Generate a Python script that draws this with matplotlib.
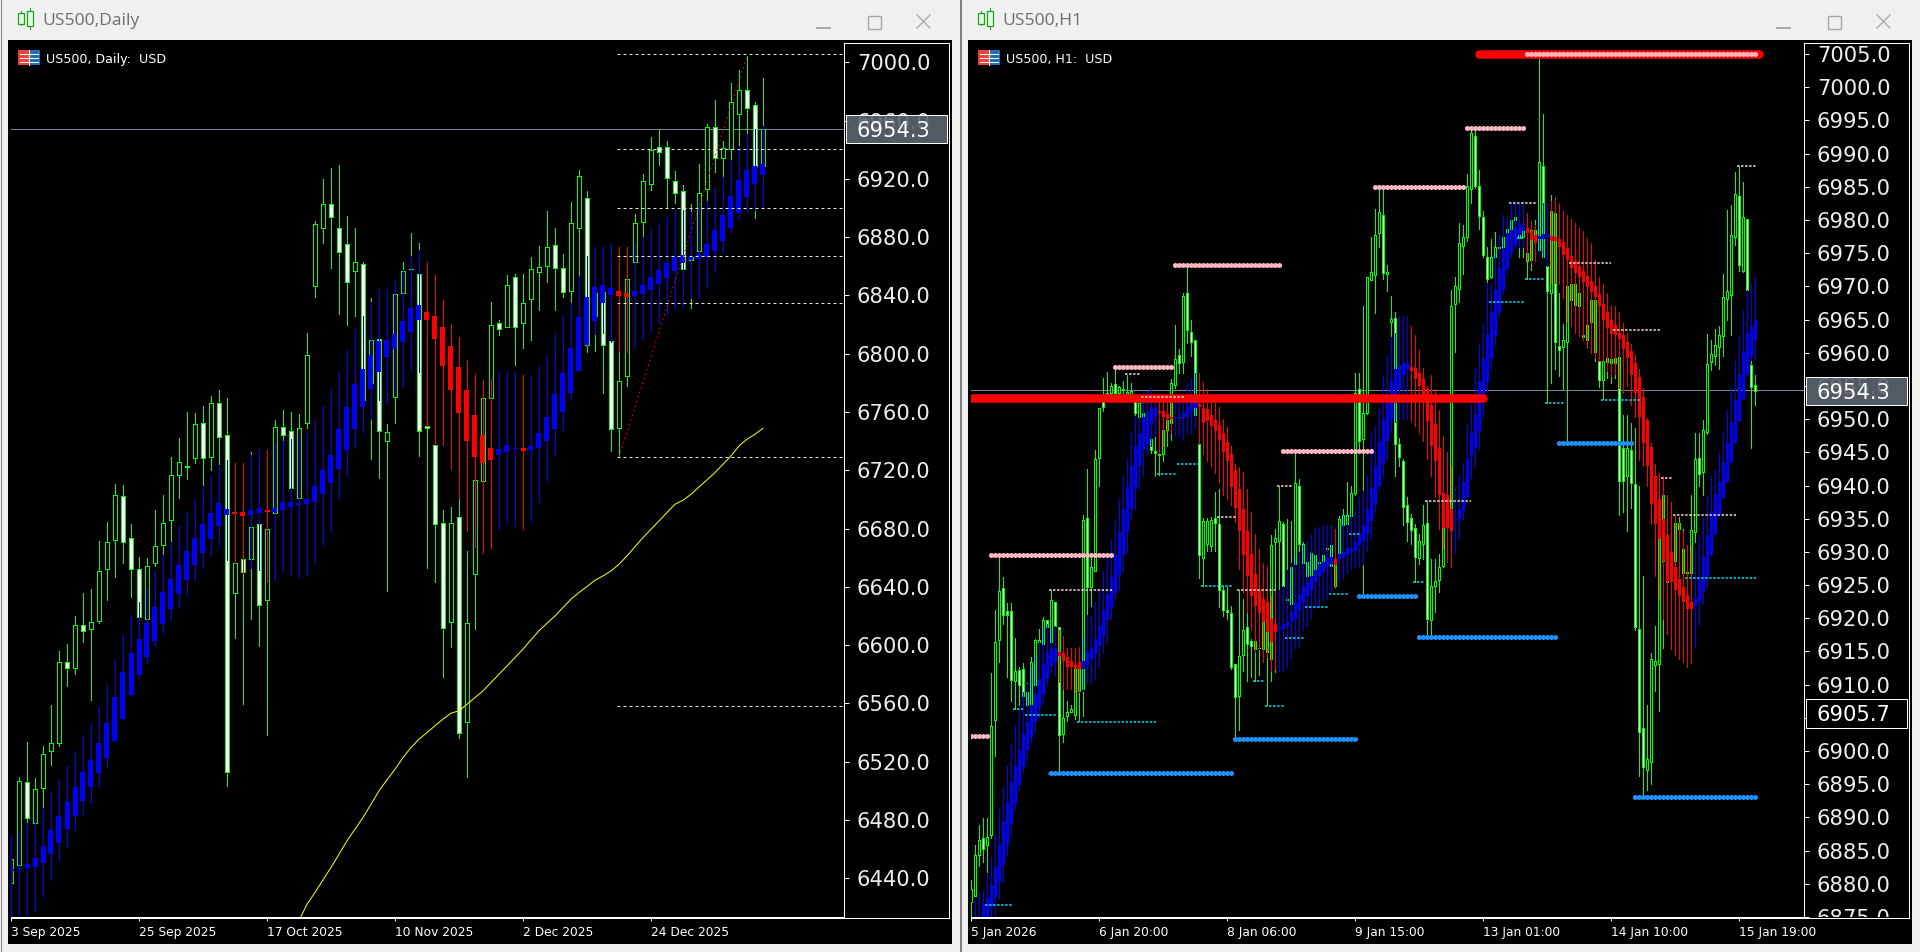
import numpy as np
import matplotlib
matplotlib.use('Agg')
import matplotlib.pyplot as plt
from matplotlib.patches import Rectangle
from matplotlib.transforms import Bbox

# ---------------- daily chart data ----------------
d_labels = ['3 Sep 2025', '25 Sep 2025', '17 Oct 2025', '10 Nov 2025', '2 Dec 2025', '24 Dec 2025']
d_label_bars = [0, 16, 32, 48, 64, 80]
d_yticks = [6440, 6480, 6520, 6560, 6600, 6640, 6680, 6720, 6760, 6800, 6840, 6880, 6920, 6960, 7000]
d_open = [6437,6449,6506,6478,6502,6527.6,6532.5,6588.7,6584,6613.6,
6611,6616.8,6652,6672,6702,6673.4,6652.5,6618,6656,6668.5,
6685.6,6716.8,6722.5,6728.7,6752.7,6729.4,6766,6744,6636,6659.4,
6659,6683,6631,6690.5,6750,6747,6701.2,6752.7,6846.7,6886.5,
6903,6886,6875,6857,6861.5,6779.8,6809.8,6740.3,6770,6841.4,
6858,6855,6750.4,6737,6683.6,6616,6688,6547,6648.6,6712.7,
6769.4,6820.8,6818.5,6852.4,6821,6837.3,6856.3,6860.4,6874.4,6858.6,
6843,6886,6907,6825.6,6842,6808.9,6749,6785,6863,6890.6,
6916.7,6942,6942,6918.7,6911.9,6864,6870.7,6912.8,6955.8,6934.5,
6940.2,6964.7,6980.7,6970.9,6928.5]
d_close = [6453,6506.6,6481,6501,6525,6532.6,6588.3,6584,6614,6610,
6616,6650.7,6671,6703,6670.6,6652,6619,6654,6668,6683.6,
6716.7,6725.5,6722.6,6751.5,6728.2,6766,6742.6,6513,6656.6,6650.5,
6681,6627.4,6680,6750,6744,6708,6749,6799,6888.7,6903,
6894,6870,6849,6862.7,6768,6809.4,6747,6746,6840.8,6857,
6858.1,6747,6748.8,6683,6612,6683.6,6540,6615.5,6713.4,6769.4,
6819.7,6816.7,6847,6818.5,6834.5,6858,6859.3,6873,6859,6842.6,
6890,6921.7,6806,6841.6,6806,6748.4,6781,6851,6889.5,6918.3,
6939.5,6938.2,6920.3,6910,6857.9,6866,6910,6955.3,6934,6940.9,
6972.5,6980.7,6968.4,6929,6954.3]
d_high = [6453,6509.6,6533.6,6509,6530.6,6559,6596,6601,6620,6636,
6638.3,6671.5,6684.5,6710.4,6710,6683,6660.5,6660,6692.8,6703,
6729,6742,6759.8,6759,6764,6771,6775,6769.6,6658,6660,
6732.8,6685,6682,6754.5,6761.4,6760,6758.4,6814,6891,6920,
6927.4,6929.5,6894.5,6886,6863,6838,6810,6752,6841,6862.7,
6883,6875.7,6774,6757,6693,6695,6701,6664.6,6714,6770,
6835.7,6823,6854,6854.6,6855,6866,6874,6898,6886,6868.2,
6904,6926,6911.7,6842,6843,6809,6801.4,6851.5,6895.8,6923,
6948.7,6953.3,6946,6925.1,6915.5,6902.7,6930.1,6957.6,6974,6945.9,
6985.5,6994.7,7004.3,6972.5,6988.9]
d_low = [6437,6448.5,6477,6474,6487,6518,6531,6571.6,6580,6602,
6562,6615.5,6631,6647,6656,6633.3,6618,6618,6654,6662,
6671.5,6701,6714,6724.8,6709,6720,6724.3,6503.5,6604.7,6559.7,
6618,6599.5,6538.6,6690.5,6740,6707,6700,6749,6839,6876,
6859,6827.5,6819.7,6826,6765,6727.8,6715,6637.2,6752.7,6841,
6857.5,6730,6653,6643,6578,6598.8,6536,6509.6,6611,6664.4,
6769,6813,6818,6792,6804,6809.4,6830,6849,6830,6839,
6835,6853,6801.4,6802,6773,6733,6730,6778,6851,6880,
6912.3,6929.5,6899.7,6903.1,6857,6831.1,6870.7,6904.8,6924.9,6921.5,
6932.9,6942.5,6950.5,6893.3,6926]
# smoothed (blue up / red down) overlay
dh_open = [6445,6446,6446.7,6448,6450.8,6456.3,6464.5,6473.7,6482.4,6492.7,
6502.3,6511.9,6522.2,6534,6549.2,6565.6,6579.6,6592.1,6603.1,6614.8,
6624.9,6635.4,6645,6654.8,6663.3,6672.9,6682,6689.3,6691.4,6691.4,
6689.3,6690.5,6692.8,6691,6692.8,6694.8,6696,6697.1,6698.5,6704,
6711.5,6720.9,6733.9,6748.3,6763.2,6775.8,6787.7,6798,6803.2,6808.3,
6815.1,6823.1,6828.6,6825.9,6818.1,6805.3,6790.9,6775.1,6758,6744.2,
6735.1,6730.5,6732.8,6734.6,6735.1,6733.9,6735.5,6740.1,6748.3,6760.2,
6772.8,6788.1,6806,6822.4,6834.6,6840.3,6842.8,6841.4,6839.6,6841,
6843.7,6847.8,6851.9,6856.7,6862,6864.3,6865,6866.6,6870.7,6877.3,
6886.5,6896.8,6907.5,6916.7,6922.6]
dh_close = [6446.5,6447,6449.7,6453.8,6462.2,6473,6482.8,6492.4,6502.5,6513,
6521.2,6532.9,6546.4,6564.2,6581.6,6594.4,6604,6615,6626,6636.3,
6645.2,6654.8,6664.4,6673.6,6682.9,6690.5,6697.3,6693.2,6690,6688.7,
6692.8,6694.1,6691,6694.1,6698.3,6698.3,6697.8,6700.1,6709.2,6720.2,
6730.5,6748.3,6763.2,6779.2,6789.5,6798.9,6809,6809.4,6813.5,6822.4,
6831.4,6833.4,6823.1,6810.1,6791.6,6775.1,6759.6,6740.3,6729.4,6725.3,
6727.1,6734.6,6737.1,6735.5,6733.3,6736.7,6745.4,6756.4,6772.1,6786.5,
6803.7,6825,6838.7,6845.5,6846.9,6844.9,6839.8,6839.1,6842.8,6846.9,
6852.4,6857.4,6862,6866.1,6867.7,6866.3,6868.2,6875,6884.9,6895.2,
6908.2,6919,6925.8,6928.8,6930.2]
dh_high = [6470,6472.5,6478,6480.5,6488.5,6499.3,6507.5,6517.1,6527.4,6537.7,
6546.6,6558.3,6572.7,6589.9,6607.7,6620.5,6629.7,6639.9,6651.6,6661.9,
6671,6681.8,6691.4,6700.1,6709.2,6716.3,6723,6727,6724.8,6724.8,
6730.5,6734.4,6734,6738,6740.3,6741.5,6745.4,6745.4,6754.5,6764.4,
6775.6,6787.2,6802.5,6816.7,6826.1,6835.7,6844.4,6844.4,6850.6,6857.2,
6867,6871.2,6863.2,6853.8,6836.9,6820.4,6811.5,6795.7,6786.1,6782,
6782.7,6787.7,6788.1,6787.2,6785.4,6784.7,6791.6,6799.1,6814,6826.1,
6835,6853.3,6867,6873.2,6873.9,6875,6873.4,6873,6876.9,6880.3,
6885.6,6889.5,6893.6,6898.6,6898.6,6897.5,6905.5,6904.8,6913.5,6921.5,
6932.9,6942.5,6950.5,6954.2,6956.5]
dh_low = [6410,6405,6405,6417.6,6427.3,6438.9,6452,6461.6,6473.4,6484.4,
6491.3,6503.4,6516.5,6534,6549.2,6565.6,6577,6587.6,6599.7,6608.6,
6616.6,6625.8,6635.4,6644.1,6652.8,6661.9,6668.8,6658.5,6656.2,6649.8,
6652.8,6651.6,6643.4,6643.8,6650.7,6648.4,6646.6,6648.2,6657.3,6668.5,
6677.9,6701.2,6716.1,6735.5,6745.4,6755.2,6768.2,6765.5,6772.8,6778.1,
6788.8,6787.7,6750.4,6737.4,6737.4,6720.9,6701.2,6678.4,6667.6,6663,
6666.5,6679.5,6683.6,6681.8,6680,6685.2,6698.3,6712.7,6730.5,6747.7,
6768.2,6788,6806,6813.5,6814.4,6808.3,6802.1,6801.4,6804.8,6809.4,
6815.1,6820.8,6826.6,6830.7,6833,6838.5,6838.5,6845.3,6856.3,6868.9,
6882.6,6891.7,6897.9,6898.6,6899.8]
ma_first_bar = 36
ma_values = [6410.8,6422.2,6430.2,6438.9,6447.4,6456.5,6465.7,6473.7,6481.7,6490.8,
6500,6507.5,6514.8,6522.8,6529.7,6535.4,6540,6544.6,6549.2,6553.3,
6554.9,6559.4,6564,6568.6,6574.3,6580,6585.7,6591.5,6597.2,6603.6,
6609.8,6615,6620,6625.8,6631.5,6636.1,6640.2,6644.5,6647.5,6650.9,
6655.5,6661.2,6667.6,6673.8,6679.5,6685.2,6691,6696.7,6699.4,6703.5,
6708.5,6713.4,6718.4,6724.1,6729.8,6736.7,6741.3,6744.7,6748.8]
d_dash_levels = [7005.5, 6940.3, 6899.8, 6866.9, 6834.7, 6729, 6558.3]
d_dash_start_bar = 75.8
d_trend_bars = [76, 92]
d_trend_prices = [6729, 7004.3]
last_price = 6954.3
bid_line = 6954.4

# ---------------- hourly chart data ----------------
h_labels = ['5 Jan 2026', '6 Jan 20:00', '8 Jan 06:00', '9 Jan 15:00', '13 Jan 01:00', '14 Jan 10:00', '15 Jan 19:00']
h_label_bars = [0, 32, 64, 96, 128, 160, 192]
h_yticks = list(range(6875, 7006, 5))
h_open = [6877.2,6878.1,6884.4,6886.9,6885.8,6887.3,6904.7,6916.8,6924.5,6921.1,
6921.1,6910.5,6912.2,6912.4,6906.9,6906.7,6910,6916.4,6916.2,6919.8,
6916.4,6922.4,6918.7,6902.6,6905.3,6905.9,6905.4,6913.3,6909.4,6935.1,
6924.7,6927.2,6944.2,6952.7,6953.3,6954,6955.3,6954,6954.5,6953.85,
6953.7,6952.7,6950.4,6947.9,6947.2,6947,6945.2,6944.7,6944.7,6948.4,
6949.4,6955.2,6959.6,6958.6,6969,6963.1,6961.9,6946.2,6929.1,6931.2,
6930.9,6935.1,6934.2,6924.2,6921.2,6920.8,6913.1,6908.3,6914.4,6918.7,
6916.6,6916.6,6915.6,6915.4,6914.9,6913.9,6931.5,6931.6,6934.2,6922.7,
6922.2,6928.2,6940,6931.2,6926.4,6925.9,6927.4,6928.3,6927.4,6930.4,
6927.9,6924.9,6929.5,6934,6934.2,6935.4,6938.9,6954.5,6947,6951,
6971,6971.7,6978,6980.7,6971.9,6964.6,6965.3,6946.3,6943.7,6937.1,
6935.1,6933.6,6929.1,6931.2,6934.4,6919.8,6924.9,6925.7,6927.9,6935.6,
6936.5,6967.4,6969.6,6976.1,6977.4,6984.6,6992.7,6985.1,6980.5,6974.5,
6971.4,6974.4,6975.8,6975.8,6977.4,6978.6,6980,6977.3,6977.5,6975,
6974,6977,6975.5,6988.2,6973,6969,6981,6961,6960.9,6961.7,
6968,6967.2,6967.1,6962.7,6962,6964.6,6960.1,6958.7,6955.9,6959.2,
6958.4,6958.5,6959.4,6945.7,6941.5,6945.4,6940.2,6918.4,6903.5,6897.1,
6898.3,6912.9,6913.1,6928.7,6925.5,6926.4,6928.7,6934.4,6926.8,6926.9,
6926.8,6933,6944.2,6942,6948.1,6958.6,6959.5,6960.9,6962.5,6968.1,
6968.7,6977.4,6983.6,6972.3,6980.2,6958.1,6955.2]
h_close = [6879.2,6884.4,6886.6,6885.2,6887.1,6903.7,6916.4,6924.1,6920.5,6920.5,
6910.7,6912.1,6910,6908.3,6908.9,6913.4,6916.8,6916.8,6919.8,6918.7,
6922.7,6918.9,6902.4,6905,6905.9,6906.3,6912.4,6909.1,6934.8,6924.7,
6927.7,6944,6951.7,6951.8,6954,6955,6954,6954.9,6954.6,6954.05,
6954.2,6950.9,6952.4,6950.9,6946.8,6945.3,6944.9,6944.6,6948.4,6949.9,
6955.4,6959,6958.5,6968.6,6963.5,6961.6,6950.7,6929.5,6934.7,6934.6,
6934.8,6934.3,6924.2,6921.2,6921,6912.6,6908.1,6914.3,6918.2,6916.2,
6915.8,6915.4,6915.5,6922.9,6919.9,6931,6932.1,6934.6,6924.9,6922.9,
6927.8,6940.4,6931.2,6928.4,6928.5,6929.8,6929.6,6928.5,6929.6,6930.6,
6931,6928.2,6934.9,6935.5,6935.6,6938.9,6954,6946.7,6950.9,6971.4,
6972.2,6977.7,6981.2,6972,6972.1,6965.1,6946.2,6944.3,6936.7,6934.5,
6933.3,6929.2,6931.6,6934.1,6919.9,6924.8,6925.6,6927.7,6935.6,6938.5,
6967.1,6970.1,6976.5,6977.5,6985.2,6993.1,6985.1,6980.6,6974.7,6971.1,
6974.4,6975.9,6975.9,6977.4,6978.6,6980,6980.5,6979.5,6978.5,6973.9,
6978.5,6978.5,6988.7,6974.5,6969.3,6981.3,6961.6,6960.4,6961.9,6970.1,
6970.4,6970.4,6969,6962.4,6964.2,6968,6968,6955.9,6958.7,6958.6,
6959.1,6959.2,6940.7,6940.7,6945.7,6940.4,6918.7,6902.8,6897.6,6898.8,
6913.9,6913.5,6932,6938.5,6927.4,6930,6934.4,6933.5,6930.4,6926.8,
6933.3,6944,6941.8,6948.3,6958.3,6959.8,6961.1,6962.7,6968.4,6969.3,
6977.7,6983.9,6973.2,6980.5,6969.5,6954.8,6954.3]
h_high = [6880.5,6885.9,6888.8,6889.9,6889.9,6911.8,6921.3,6929.2,6926.2,6922.3,
6922.3,6917.1,6912.6,6913.3,6910.3,6914.1,6916.9,6918.4,6920.2,6919.8,
6924.3,6922.4,6918.7,6909.7,6907.5,6906.9,6913.4,6913.4,6935.6,6942.5,
6929.5,6945.3,6951.7,6956.2,6957.1,6955.5,6957.5,6955,6955.7,6956.7,
6955.5,6953.4,6952.4,6950.9,6948.4,6947.9,6947.9,6947.7,6948.9,6950.4,
6956,6964.2,6960.5,6969,6972.9,6965,6961.9,6951.7,6935.1,6935.1,
6935.2,6939,6939.5,6924.9,6924.7,6921.9,6913.1,6924.3,6922.9,6921.7,
6916.9,6916.9,6924.7,6926.2,6923.7,6932.5,6933.5,6940,6934.5,6935,
6934.7,6944.9,6941,6931.5,6928.5,6929.8,6929.6,6929.5,6930,6931,
6931,6929,6935.4,6936.5,6940.5,6940,6957,6956.9,6967,6971.4,
6977.5,6981.6,6984.8,6984.8,6973.3,6968.6,6966.1,6947.1,6944,6938.2,
6935.7,6934.2,6932.7,6937.1,6937.6,6929,6929,6929.7,6935.6,6938.5,
6969.4,6971.4,6979.5,6979.2,6987,6993.4,6993.5,6987.6,6981.4,6976,
6977.1,6978.2,6977.7,6978.3,6980,6982,6980.6,6979.6,6979,6978.5,
6978.5,6980,7004.3,6996,6974,6983.8,6983.3,6969,6964.4,6970.1,
6970.4,6970.4,6969,6969,6964.2,6968,6968,6960,6960,6960,
6959.2,6959.7,6959.4,6950.7,6950.7,6949.4,6948.7,6940,6926.4,6906.9,
6914.8,6918.9,6938.5,6938.7,6932,6931,6935.5,6935.2,6933.5,6931,
6938.5,6947.9,6947.9,6949.9,6962.9,6962,6963.6,6964,6971.9,6981.5,
6982.3,6987.2,6988.2,6985.7,6980.2,6959.6,6956.6]
h_low = [6875.1,6878.1,6882.7,6883.3,6881.8,6886.9,6899.2,6913.4,6919.2,6911.2,
6907.6,6906.3,6906.9,6907.3,6906.8,6906.7,6908.9,6916.4,6915.9,6918.7,
6916.4,6918.7,6896.8,6901.3,6904.6,6905.9,6904.9,6904.6,6905.3,6917.7,
6921.9,6927.2,6940,6951.3,6953,6953.7,6953.8,6953.4,6954,6953,
6953,6950.7,6950.4,6947.9,6946.8,6944.9,6941.4,6941.6,6943.7,6945.9,
6946.9,6954.7,6957,6957,6961.5,6959.5,6950.4,6926,6924.9,6930.2,
6930.2,6930.2,6921.7,6920.4,6919.9,6912.4,6902.1,6903.2,6912.1,6910.6,
6911.1,6910.6,6911.4,6914.4,6906.9,6910.6,6911.9,6922.9,6920.4,6922.4,
6916.9,6927.9,6930.2,6928.2,6924.9,6925.4,6926.4,6927.4,6926.9,6928.4,
6927.7,6924.7,6928.4,6929.5,6929.5,6934.2,6938.5,6944.9,6923.7,6950.8,
6971,6966,6975.9,6971.1,6969.3,6962.5,6941.5,6942.9,6934.1,6931.7,
6931.2,6925.4,6928.2,6929,6917.4,6917.4,6920.9,6923.9,6927.7,6934,
6936.5,6960.1,6967.6,6971.9,6976.8,6982.5,6984.8,6978.7,6974.4,6970.6,
6971.3,6973,6975,6975.8,6977.3,6978,6977.3,6974.5,6974.5,6971.1,
6972.5,6974,6975,6974.5,6952.5,6955.5,6957.5,6956.5,6954.5,6946.7,
6967,6967,6966.8,6962.2,6960.8,6961.2,6958.7,6954.8,6953,6956.2,
6955.5,6956.2,6935.5,6936,6933.1,6936.6,6918.2,6896.3,6893.4,6894.1,
6895,6909,6906,6915.6,6917.7,6926.4,6928,6930.5,6926.7,6926.7,
6926.4,6931.5,6940,6938.5,6947.7,6957.4,6958.1,6957.6,6959.5,6964.9,
6962.7,6976.3,6972.3,6972.2,6963,6945.7,6952.1]
hh_open = [6870,6871,6872,6873,6874,6876.5,6878,6880.2,6882.9,6885.9,
6889,6892,6894.9,6897.6,6900.1,6902.1,6904.4,6906.5,6908.5,6910.8,
6912.8,6913.4,6914.9,6914.7,6914.1,6913.6,6913,6913.4,6912.4,6912.9,
6913.9,6914.6,6915.8,6917.3,6919.8,6921.5,6923.8,6926.5,6929.6,6933,
6936.5,6939.6,6942.9,6945.3,6946.2,6949.2,6950.4,6951.2,6951.2,6950.8,
6950.4,6950.2,6950.1,6950.2,6950.4,6951.2,6951.7,6952.3,6951.7,6951.5,
6950.7,6949.8,6949.1,6947.9,6946.5,6944.7,6942.4,6939.5,6936.4,6933.1,
6929.7,6926.7,6924.3,6922.9,6922.4,6919.9,6919.1,6918.4,6918.4,6918.8,
6919.4,6919.9,6921.2,6922.4,6923.4,6924.2,6925.4,6926.3,6927,6927.8,
6928.2,6929,6928.9,6929.2,6929.5,6930,6930.2,6931,6931.7,6932.7,
6934.7,6937.2,6940,6943.4,6946.7,6949.9,6952.8,6954.5,6956.6,6957.5,
6957.8,6957.7,6957,6956,6954.6,6952.2,6949.2,6945.7,6938.9,6938.5,
6936.5,6934.7,6935,6936.1,6938.2,6944.4,6945.7,6948.2,6953,6955.6,
6959.1,6962.6,6966.1,6969.4,6972.6,6975.1,6976.3,6977.8,6978.3,6978.8,
6978.3,6977.8,6977.2,6977.2,6977.4,6977.6,6977.4,6977.2,6976.7,6975.8,
6974.6,6973.8,6973,6972.3,6971.5,6970.8,6970,6968.8,6967.3,6966.2,
6965,6964.2,6963,6962.7,6961.7,6960.2,6958.5,6956.4,6953.4,6949.9,
6945.8,6941.5,6938,6935,6932.5,6930,6927.8,6925.9,6924.7,6923.5,
6922.4,6921.8,6922.4,6924.1,6926.4,6929.5,6932.7,6935.6,6938.1,6940.6,
6943.5,6946.4,6949.7,6953,6956.6,6959.5,6961.9]
hh_close = [6872,6873,6874.5,6876.9,6878,6879.8,6882.5,6885.8,6889.3,6892.4,
6895.3,6897.8,6900.2,6902.6,6904.6,6906.9,6908.6,6910.9,6913.1,6914.9,
6915.6,6915.6,6914.3,6913.5,6912.7,6912.6,6912.3,6912.3,6913.5,6914.9,
6915.6,6916.9,6918.9,6921.3,6923.7,6926.2,6929.5,6933,6936.5,6939.8,
6943,6946,6947.9,6950.3,6951.1,6951.9,6951.7,6950.9,6950.4,6950,
6950,6950.3,6950.4,6950.9,6951.9,6952.7,6952.4,6951.8,6949.4,6949.7,
6948.9,6948.2,6946.8,6945,6943.7,6939.8,6936.6,6933.1,6929.5,6926.4,
6923.4,6921.8,6920.8,6919.4,6917.9,6916.4,6917.9,6918.7,6919.1,6919.5,
6920.9,6922.4,6923.7,6924.8,6925.5,6926.4,6927.3,6928.2,6928.5,6929.3,
6929.2,6928,6929.7,6930,6930.6,6930.6,6931.5,6932.7,6934.1,6936.5,
6939.7,6942.9,6946.7,6950,6953.2,6955.7,6957.6,6958.2,6958.5,6958.4,
6957.3,6956,6955,6953.7,6949.7,6946,6943.7,6938.5,6933.6,6933.6,
6933.2,6935,6936.5,6940.5,6944,6947.9,6950.7,6955.7,6959.2,6962.8,
6966.2,6969.5,6972.8,6975.8,6978,6978.5,6979,6979.5,6979,6978,
6977,6976.5,6977.6,6977.9,6977.9,6976.9,6976.8,6975.9,6974.7,6974,
6972.8,6972,6971.4,6970.6,6969.9,6969.1,6968.4,6967.1,6964.9,6963.7,
6962.9,6962.7,6962.1,6960.6,6959.2,6956.7,6954,6950.4,6946.4,6942.9,
6937.2,6934.2,6932,6928.7,6925.5,6925.4,6924.2,6923.3,6922.4,6921.4,
6921.4,6923.1,6925.9,6929.2,6932.6,6936.2,6938.5,6940.6,6943.4,6946.4,
6949.4,6952.9,6956.6,6960.1,6963,6964.1,6965]
hh_high = [6874,6877.6,6878.9,6878.9,6881.5,6884,6887.5,6891.2,6894.6,6897.9,
6901.1,6903.9,6906.4,6908.9,6910.1,6912.6,6914.4,6916.5,6918.4,6919.2,
6918.4,6918.8,6918.2,6917.3,6915.6,6915.6,6915.5,6915.7,6917.5,6920.5,
6920.4,6922.4,6924.4,6927.1,6929.1,6931.8,6934.7,6938,6941.5,6944,
6947.9,6950.4,6950.4,6954,6954.2,6954.7,6953.4,6953.4,6952.7,6952.7,
6952.4,6952.7,6953.4,6952.7,6955.5,6956,6956.9,6956.9,6955.6,6954.6,
6953.4,6952.5,6951.8,6950,6948.8,6945.9,6943.2,6942.8,6942,6939.5,
6936,6932.7,6930.5,6928.4,6927.9,6923.4,6924.2,6924.2,6924.9,6927.3,
6928.4,6929.5,6930,6931.1,6931.7,6932.7,6933.6,6933.8,6934,6934.1,
6934,6933.5,6934,6935.4,6934.2,6935.5,6936.5,6938.2,6939.2,6941.5,
6947.9,6949,6951.7,6956.7,6959.7,6962.4,6963,6965.5,6965.6,6965.6,
6964.1,6962.7,6960.4,6957.7,6955,6956.7,6954.5,6951.4,6947.5,6945,
6943,6940,6941.5,6943.4,6949.3,6953,6957.7,6961.4,6964.5,6970.5,
6970.5,6975,6977.8,6980.8,6980.3,6982.5,6982.5,6982.5,6982.5,6981,
6979.8,6979.3,6981,6982.5,6982.5,6982.9,6983.2,6982.6,6981.4,6980.8,
6980.2,6979.6,6978.8,6978.3,6977.3,6976.5,6974,6971.4,6970.3,6969,
6967,6967,6966.1,6964.5,6963,6961.3,6959.7,6957.6,6954.7,6950.2,
6946.4,6943.2,6941.9,6941.5,6938.5,6937.5,6935.5,6934.5,6933.2,6931,
6931,6930.7,6932.2,6935.2,6938.6,6941.5,6942.4,6944.9,6947.9,6951.4,
6954.9,6958.7,6962.5,6966.5,6969.5,6970.5,6971.4]
hh_low = [6868,6868,6869,6870,6871,6874,6875.2,6877.7,6880.3,6884.3,
6887.3,6891.3,6894.1,6896.8,6898.8,6901.3,6902.8,6905.1,6907.4,6910.1,
6911.9,6911.4,6910.4,6909.4,6909.4,6909.4,6908.9,6908.9,6909.1,6910.1,
6910.4,6910.9,6912.6,6914.9,6916.4,6919.9,6922.7,6924.4,6927.2,6930,
6935,6936.5,6939.5,6941.5,6944.8,6946,6947.5,6944.9,6945.9,6948.4,
6947.9,6947.4,6947.4,6946.9,6947.7,6947.9,6948.7,6946.2,6944.7,6943.7,
6942.9,6941.9,6940.5,6938.5,6938,6937,6934.5,6927.5,6924,6920.9,
6918.2,6914.9,6915.4,6913.4,6914.1,6912.1,6912.4,6912.1,6912.1,6912.5,
6914,6915.6,6915.9,6918.2,6918.9,6919.9,6921.7,6921.7,6922.7,6922.9,
6923.9,6924.9,6925.4,6925.9,6926.7,6927.4,6927.7,6927.9,6928.2,6930.2,
6932,6936,6939.5,6941.5,6944,6948,6949.5,6950,6950,6950,
6949.7,6948.9,6947.9,6946.7,6944,6941.5,6938.2,6933.5,6930.5,6928.5,
6927.8,6929.8,6932,6935,6938.2,6941.1,6943,6945.4,6950.4,6954.2,
6957.5,6961,6965.5,6969,6972,6974.5,6975.8,6976,6976,6974,
6973.5,6973.8,6975,6974.5,6973,6970.5,6970.5,6970.3,6968.3,6964.7,
6964,6963,6962.5,6962,6961,6960,6959.2,6958.7,6958.7,6957.2,
6956.5,6956.8,6954.7,6954,6955,6952.1,6950.4,6943.9,6942.9,6940,
6934.2,6926.4,6922.9,6919.9,6917.7,6915.4,6914.4,6913.8,6913.4,6912.6,
6913.3,6915.6,6919,6922.3,6924.7,6929.5,6932.7,6935.6,6938.1,6940.6,
6943.5,6946.4,6949.7,6953,6956.6,6958.9,6958.9]
# horizontal level segments of the hourly chart
pink_starts = [0, 4.5, 35.4, 50.4, 77.4, 100.4, 123.5, 138.5]
pink_ends = [4.4, 35.4, 50.4, 77.4, 100.4, 123.5, 138.5, 196.4]
pink_prices = [6902.3, 6929.55, 6957.9, 6973.2, 6945.2, 6985, 6993.8, 7005]
blue_starts = [19.3, 65.4, 96.4, 111.4, 146.4, 165.4]
blue_ends = [65.4, 96.4, 111.4, 146.4, 165.4, 196.4]
blue_prices = [6896.7, 6901.8, 6923.4, 6917.2, 6946.4, 6893.1]
red_starts = [0, 127]
red_ends = [128, 197]
red_prices = [6953.2, 7005]
pale_starts = [38.5, 42.5, 19.6, 61.6, 76.6, 66.6, 113.6, 134.5, 149.5, 160.6, 172.5, 175.6, 191.6]
pale_ends = [42.3, 53.3, 35.4, 66.3, 80.3, 76.3, 125, 141.3, 160.1, 172.3, 175.2, 191.3, 196.3]
pale_prices = [6956.8, 6953.4, 6924.3, 6935.2, 6940, 6924.2, 6937.6, 6982.6, 6973.55, 6963.5, 6941.1, 6935.5, 6988.2]
cyan_starts = [3.5, 10.6, 13.6, 26.6, 46.6, 51.6, 57.6, 70.6, 73.6, 78.6, 83.6, 89.6, 94.6, 110.6, 129.6, 138.6, 136.6, 143.6, 157.6, 178.6]
cyan_ends = [10.2, 13.1, 21.3, 46.3, 51.3, 57, 65.2, 73.3, 78.3, 83.3, 89.3, 94.3, 97.3, 113.3, 138.3, 143.3, 138.3, 148.3, 167.3, 196.3]
cyan_prices = [6876.8, 6906.3, 6905.4, 6904.4, 6941.7, 6943.2, 6924.9, 6910.5, 6906.8, 6917, 6921.7, 6923.6, 6932.7, 6925.4, 6967.7, 6971.1, 6977.3, 6952.5, 6952.9, 6926]
ask_price = 6905.7

W, H = 1920, 952
PX = 0.72  # one pixel in points at 100 dpi
THIN = 0.72  # vertical candle strokes
GREEN, BLUE, RED = '#00FF00', '#0000FF', '#FF0000'
CHROME = '#F0F0F0'
plt.rcParams['font.family'] = ['DejaVu Sans']

fig = plt.figure(figsize=(W / 100, H / 100), dpi=100, facecolor=CHROME)
bg = fig.add_axes([0, 0, 1, 1], zorder=0)
bg.set_xlim(0, W)
bg.set_ylim(H, 0)
bg.axis('off')
front = fig.add_axes([0, 0, 1, 1], zorder=9)
front.set_xlim(0, W)
front.set_ylim(H, 0)
front.axis('off')
front.patch.set_alpha(0)


def window(x0, title):
    """Window frame, title bar and the black chart pane."""
    bg.add_patch(Rectangle((x0 + 8, 40), 944, 904, fc='black', ec='none'))
    for xx in (x0 + 0.5, x0 + 959.5):
        bg.plot([xx, xx], [0, H], color='#808080', lw=PX, aa=False)
    bg.plot([x0, x0 + 960], [951.5, 951.5], color='#808080', lw=PX, aa=False)
    # candle icon
    for cx, y0, y1, top, bot in ((20.5, 11, 25, 13, 24), (29.5, 8, 29, 11, 26)):
        bg.plot([x0 + cx, x0 + cx], [y0, y1], color='#12A512', lw=PX, aa=False)
        bg.add_patch(Rectangle((x0 + cx - 3, top), 6, bot - top, fc='#E8F5E8', ec='#12A512', lw=PX * 1.2, zorder=3))
    bg.text(x0 + 42, 21, title, color='#6E6E6E', fontsize=12.6, family='Open Sans', va='center', ha='left')
    # caption buttons
    bg.plot([x0 + 817, x0 + 830], [28, 28], color='#A8A8A8', lw=PX * 1.5, aa=False)
    bg.add_patch(Rectangle((x0 + 867.5, 15.5), 13, 13, fc='none', ec='#A8A8A8', lw=PX * 1.4))
    bg.plot([x0 + 917, x0 + 930], [15, 28], color='#A8A8A8', lw=PX * 1.3)
    bg.plot([x0 + 917, x0 + 930], [28, 15], color='#A8A8A8', lw=PX * 1.3)
    # white pane frame
    fx0, fx1, fy0, fy1 = x0 + 10.5, x0 + 948.5, 42.5, 917.5
    bg.plot([fx0, fx1, fx1], [fy0, fy0, fy1], color='white', lw=PX, aa=False)
    bg.plot([fx0, fx0], [fy0, fy1], color='white', lw=PX, aa=False)
    bg.plot([fx0, fx1], [fy1, fy1], color='white', lw=PX, aa=False)
    # flag icon of the caption line
    fx = x0 + 18
    front.add_patch(Rectangle((fx, 50), 11, 15, fc='#E8453C', ec='none', zorder=3))
    front.add_patch(Rectangle((fx + 11, 50), 11, 15, fc='#1F6FB5', ec='none', zorder=3))
    for sy in (54, 58, 62):
        front.plot([fx + 2, fx + 20], [sy, sy], color='white', lw=PX, aa=False, zorder=4)
    front.plot([fx + 11, fx + 11], [50, 65], color='white', lw=PX, aa=False, zorder=4)


window(0, 'US500,Daily')
window(960, 'US500,H1')


def pane(x0, pitch, ylim, yticks, labels, label_bars):
    ax = fig.add_axes([(x0 + 11) / W, 1 - 917 / H, 833 / W, 874 / H], zorder=2)
    ax.set_facecolor('black')
    ax.set_xlim(0, 833 / pitch)
    ax.set_ylim(*ylim)
    for side in ('top', 'left'):
        ax.spines[side].set_visible(False)
    for side in ('right', 'bottom'):
        ax.spines[side].set_color('white')
        ax.spines[side].set_linewidth(PX)
    ax.yaxis.tick_right()
    ax.set_yticks(yticks)
    ax.set_yticklabels([f'{v:.1f}' for v in yticks])
    ax.set_xticks(label_bars)
    ax.set_xticklabels(labels, ha='left')
    ax.tick_params(axis='y', colors='white', length=3.6, width=PX, pad=5.6, labelsize=15.2, labelcolor='#EDEDED')
    ax.tick_params(axis='x', colors='white', length=3.2, width=PX, pad=3.0, labelsize=8.8)
    return ax


def candles(ax, o, h, l, c, width):
    x = np.arange(len(o))
    o, h, l, c = map(np.asarray, (o, h, l, c))
    ax.vlines(x, l, h, color=GREEN, lw=THIN, antialiased=False, zorder=2)
    top, bot = np.maximum(o, c), np.minimum(o, c)
    face = np.where(c < o, 'white', 'black')
    ax.bar(x, top - bot, bottom=bot, width=width, color=list(face), edgecolor=GREEN,
           linewidth=THIN, antialiased=False, zorder=2.2)


def overlay(ax, o, h, l, c, width):
    x = np.arange(len(o))
    o, h, l, c = map(np.asarray, (o, h, l, c))
    col = [BLUE if cc >= oo else RED for oo, cc in zip(o, c)]
    ax.vlines(x, l, h, colors=col, lw=THIN, antialiased=False, zorder=3)
    top, bot = np.maximum(o, c), np.minimum(o, c)
    ax.bar(x, np.maximum(top - bot, 0.001), bottom=bot, width=width, color=col, linewidth=0,
           antialiased=False, zorder=3.1)


def price_tag(ax, price, face, alpha, half_px, text_col='white', edge='white'):
    y0, y1 = ax.get_ylim()
    unit = (y1 - y0) / 874
    x_a = 834.8 / 833
    w_a = 101.5 / 833
    tr = ax.get_yaxis_transform()
    ax.add_patch(Rectangle((x_a, price - half_px * unit), w_a, 2 * half_px * unit, transform=tr, fc=face,
                           ec='none', alpha=alpha, clip_on=False, zorder=6))
    ax.add_patch(Rectangle((x_a, price - half_px * unit), w_a, 2 * half_px * unit, transform=tr, fc='none',
                           ec=edge, lw=PX, clip_on=False, zorder=6.1))
    ax.text(846 / 833, price, f'{price:.1f}', transform=tr, color=text_col, fontsize=15.2, va='center_baseline',
            ha='left', clip_on=False, zorder=7)


# ----- daily pane -----
ax1 = pane(0, 8, (6413.4, 7013.2), d_yticks, d_labels, d_label_bars)
ax1.axhline(bid_line, color='#778899', lw=PX, antialiased=False, zorder=1)
candles(ax1, d_open, d_high, d_low, d_close, 0.5)
overlay(ax1, dh_open, dh_high, dh_low, dh_close, 0.625)
ma_x = np.arange(len(ma_values)) + ma_first_bar
ax1.plot(ma_x, ma_values, color='#FFFF00', lw=0.72, antialiased=True, zorder=4)
ax1.hlines(d_dash_levels, d_dash_start_bar, 833 / 8, color='#E8E8E8', lw=PX, linestyles=(0, (3, 3)), zorder=4)
ax1.plot(d_trend_bars, d_trend_prices, color=RED, lw=0.72, linestyle=(0, (1.6, 3.2)), antialiased=True, zorder=4)
price_tag(ax1, last_price, '#5C6670', 0.9, 14)
ax1.text(35 / 833, 1 - 16 / 874, 'US500, Daily:  USD', transform=ax1.transAxes, color='white', fontsize=9.05,
         va='center', ha='left', zorder=8)

# ----- hourly pane -----
ax2 = pane(960, 4, (6875.08, 7006.67), h_yticks, h_labels, h_label_bars)
ax2.axhline(bid_line, color='#778899', lw=PX, antialiased=False, zorder=1)
candles(ax2, h_open, h_high, h_low, h_close, 0.5)
overlay(ax2, hh_open, hh_high, hh_low, hh_close, 0.75)
for s, e, p in zip(red_starts, red_ends, red_prices):
    ax2.plot([s, e], [p, p], color=RED, lw=PX * 8.5, solid_capstyle='round', zorder=4)
for s, e, p in zip(pink_starts, pink_ends, pink_prices):
    ax2.plot([s, e], [p, p], color='#FFB6C1', lw=PX * 3, solid_capstyle='butt', zorder=4.5)
    ax2.plot(np.arange(np.ceil(s), e), np.full(int(np.ceil(e - np.ceil(s))), p), ls='none', marker='o', ms=5 * PX,
             mfc='#FFB6C1', mec='none', zorder=4.6)
for s, e, p in zip(blue_starts, blue_ends, blue_prices):
    ax2.plot([s, e], [p, p], color='#1E90FF', lw=PX * 3, solid_capstyle='butt', zorder=4.5)
    ax2.plot(np.arange(np.ceil(s), e), np.full(int(np.ceil(e - np.ceil(s))), p), ls='none', marker='o', ms=5 * PX,
             mfc='#1E90FF', mec='none', zorder=4.6)
for s, e, p in zip(pale_starts, pale_ends, pale_prices):
    ax2.plot([s, e], [p, p], color='#FFE0E4', lw=PX * 1.5, linestyle=(0, (1.6, 1.1)), zorder=4.7)
for s, e, p in zip(cyan_starts, cyan_ends, cyan_prices):
    ax2.plot([s, e], [p, p], color='#00E6FF', lw=PX * 1.5, linestyle=(0, (1.6, 1.1)), zorder=4.7)
price_tag(ax2, last_price, '#5C6670', 0.9, 14)
price_tag(ax2, ask_price, 'black', 1.0, 14.5)
ax2.text(35 / 833, 1 - 16 / 874, 'US500, H1:  USD', transform=ax2.transAxes, color='white', fontsize=9.05,
         va='center', ha='left', zorder=8)

# the lowest hourly label is cut by the pane's lower edge
for lbl, v in zip(ax2.get_yticklabels(), h_yticks):
    if v == 6875:
        lbl.set_clip_box(Bbox.from_extents(960, H - 917, 1920, H))
        lbl.set_clip_on(True)

fig.savefig('out.png', dpi=100, facecolor=CHROME)
